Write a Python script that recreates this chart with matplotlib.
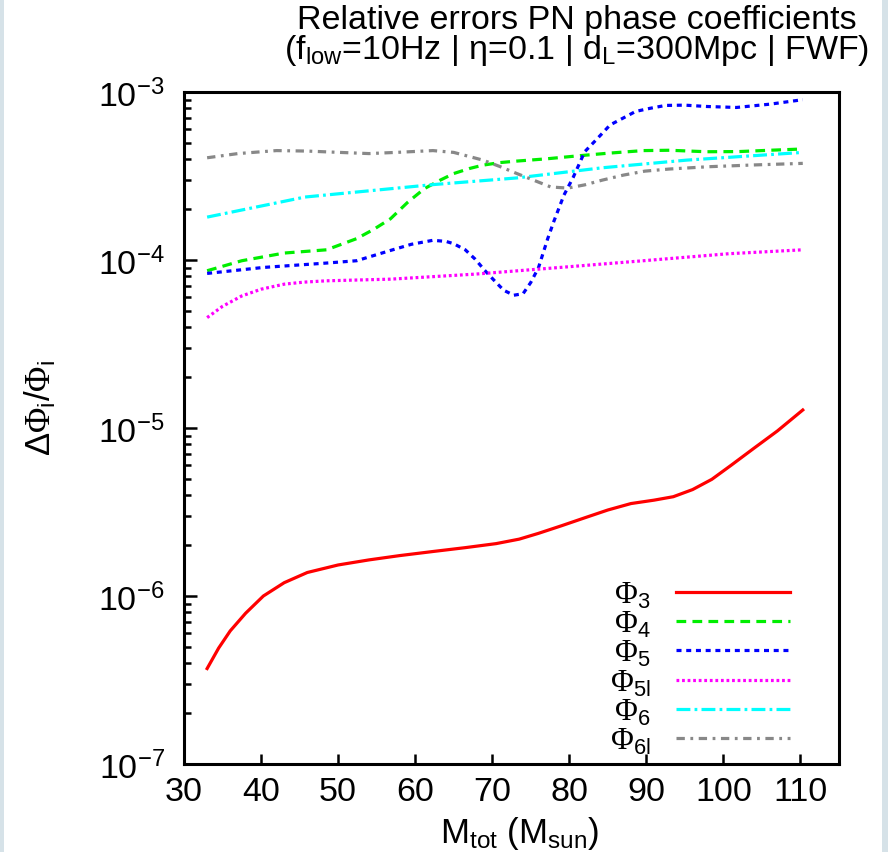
import matplotlib
matplotlib.use("Agg")
import matplotlib.pyplot as plt
from matplotlib.patches import Rectangle

# total mass (M_sun) and relative errors
m_phi3 = [33, 34.5, 36, 38, 40.3, 43, 46, 50, 54, 58, 62.3, 66.5, 70.5, 73.5, 76, 79, 82,
          85, 88, 91, 93.5, 96, 98.5, 101, 104, 107, 110.3]
phi3 = [3.7e-7, 4.9e-7, 6.2e-7, 7.9e-7, 1.0e-6, 1.2e-6, 1.38e-6, 1.53e-6, 1.64e-6, 1.74e-6,
        1.84e-6, 1.94e-6, 2.05e-6, 2.18e-6, 2.36e-6, 2.62e-6, 2.92e-6, 3.25e-6, 3.55e-6,
        3.72e-6, 3.9e-6, 4.3e-6, 4.95e-6, 6.0e-6, 7.6e-6, 9.6e-6, 1.28e-5]

m_phi4 = [33, 37.5, 43, 48.5, 52.4, 54.6, 56.8, 59, 61.2, 63.2, 65, 67, 68.8, 71, 73.2,
          77, 81.4, 85, 89.6, 93, 97.8, 102, 106, 110.3]
phi4 = [8.63e-5, 9.9e-5, 1.10e-4, 1.15e-4, 1.34e-4, 1.52e-4, 1.76e-4, 2.2e-4, 2.66e-4,
        2.98e-4, 3.27e-4, 3.5e-4, 3.67e-4, 3.8e-4, 3.88e-4, 4.0e-4, 4.18e-4, 4.32e-4,
        4.48e-4, 4.5e-4, 4.41e-4, 4.42e-4, 4.5e-4, 4.58e-4]

m_phi5 = [33, 40.3, 48.5, 52.4, 56.8, 59.5, 62.3, 64, 65, 66.5, 67.8, 69, 70.5, 71.5,
          72.8, 74, 75, 76, 77.2, 78, 79.3, 80.5, 82, 83.5, 85.3, 87, 88.6, 90.5, 92.5,
          95, 97.8, 101.7, 106.1, 110.3]
phi5 = [8.32e-5, 9.03e-5, 9.59e-5, 9.9e-5, 1.14e-4, 1.24e-4, 1.31e-4, 1.29e-4, 1.25e-4,
        1.15e-4, 1.01e-4, 8.7e-5, 7.35e-5, 6.6e-5, 6.17e-5, 6.3e-5, 7.35e-5, 9.0e-5,
        1.34e-4, 1.7e-4, 2.43e-4, 3.1e-4, 4.41e-4, 5.2e-4, 6.37e-4, 7.0e-4, 7.66e-4,
        8.0e-4, 8.32e-4, 8.35e-4, 8.20e-4, 8.09e-4, 8.47e-4, 9.0e-4]

m_phi5l = [33, 35, 37.5, 40, 43, 45.5, 48.5, 56.8, 67.8, 78.8, 89.6, 100.7, 110.3]
phi5l = [4.54e-5, 5.3e-5, 6.11e-5, 6.7e-5, 7.18e-5, 7.38e-5, 7.52e-5, 7.69e-5, 8.24e-5,
         9.03e-5, 9.9e-5, 1.09e-4, 1.15e-4]

m_phi6 = [33, 45.7, 62.3, 73.2, 84.3, 95.2, 110.3]
phi6 = [1.80e-4, 2.37e-4, 2.81e-4, 3.08e-4, 3.54e-4, 3.93e-4, 4.37e-4]

m_phi6l = [33, 37, 42, 46, 50.2, 54, 58, 62.3, 65, 68.8, 71, 73.2, 75.5, 77.6, 79.8, 82,
           84.3, 87, 89.8, 93, 98, 104, 110.3]
phi6l = [4.06e-4, 4.3e-4, 4.48e-4, 4.45e-4, 4.37e-4, 4.30e-4, 4.38e-4, 4.48e-4, 4.37e-4,
         3.93e-4, 3.6e-4, 3.27e-4, 2.97e-4, 2.72e-4, 2.68e-4, 2.8e-4, 2.99e-4, 3.2e-4,
         3.38e-4, 3.48e-4, 3.59e-4, 3.68e-4, 3.76e-4]

plt.rcParams["font.family"] = ["Liberation Sans", "DejaVu Sans"]
plt.rcParams["mathtext.fontset"] = "custom"
plt.rcParams["mathtext.rm"] = "Liberation Serif"
plt.rcParams["mathtext.sf"] = "Liberation Sans"
plt.rcParams["mathtext.it"] = "Liberation Sans:italic"
plt.rcParams["mathtext.default"] = "sf"
plt.rcParams["lines.scale_dashes"] = False

fig = plt.figure(figsize=(8.88, 8.53), dpi=100)
fig.patch.set_facecolor("#d6e2e8")
fig.patches.append(Rectangle((4 / 888, 0), 878 / 888, 1, transform=fig.transFigure,
                             facecolor="white", edgecolor="none", zorder=-1))

ax = fig.add_axes([184 / 888, 1 - 765 / 853, 655 / 888, 672 / 853])
ax.set_facecolor("white")

lw = 2.3
ax.plot(m_phi3, phi3, color="#ff0000", lw=lw, label=r"$\mathrm{\Phi}_3$")
ax.plot(m_phi4, phi4, color="#00ee00", lw=lw, dashes=(7, 4.5), label=r"$\mathrm{\Phi}_4$")
ax.plot(m_phi5, phi5, color="#0000ff", lw=lw, dashes=(3.6, 3.4), label=r"$\mathrm{\Phi}_5$")
ax.plot(m_phi5l, phi5l, color="#ff00ff", lw=lw, dashes=(2, 2), label=r"$\mathrm{\Phi}_{5l}$")
ax.plot(m_phi6, phi6, color="#00ffff", lw=lw, dashes=(10, 3, 2, 3), label=r"$\mathrm{\Phi}_6$")
ax.plot(m_phi6l, phi6l, color="#888888", lw=lw, dashes=(6, 4, 2, 4), label=r"$\mathrm{\Phi}_{6l}$")

ax.set_yscale("log")
ax.set_ylim(1e-7, 1e-3)
ax.set_xlim(30, 115)
ax.set_xticks([30, 40, 50, 60, 70, 80, 90, 100, 110])

ax.tick_params(axis="both", which="both", direction="in", top=False, right=False,
               labelsize=24.5, width=1.8)
ax.tick_params(axis="y", which="major", length=9, pad=14)
ax.tick_params(axis="y", which="minor", length=5)
ax.tick_params(axis="x", which="major", length=7, pad=9)
for s in ax.spines.values():
    s.set_linewidth(2.2)

leg = ax.legend(loc="lower right", bbox_to_anchor=(0.925, 0.012), frameon=False,
                markerfirst=False, fontsize=22.5, handlelength=3.65, labelspacing=-0.03,
                handletextpad=0.8, borderaxespad=0, borderpad=0)
for t in leg.get_texts():
    t.set_ha("right")

fig.text(577 / 888, 1 - 5 / 853,
         "Relative errors PN phase coefficients\n"
         r"(f$_{low}$=10Hz | η=0.1 | d$_L$=300Mpc | FWF)",
         ha="center", va="top", fontsize=24.5, linespacing=0.9)
fig.text(40 / 888, 1 - 408 / 853, r"$\Delta\mathrm{\Phi}_i/\mathrm{\Phi}_i$",
         rotation=90, ha="center", va="center", fontsize=25)
fig.text(520 / 888, 1 - 843 / 853, r"M$_{tot}$ (M$_{sun}$)",
         ha="center", va="baseline", fontsize=25)

fig.savefig("out.png", dpi=100, facecolor=fig.get_facecolor())
